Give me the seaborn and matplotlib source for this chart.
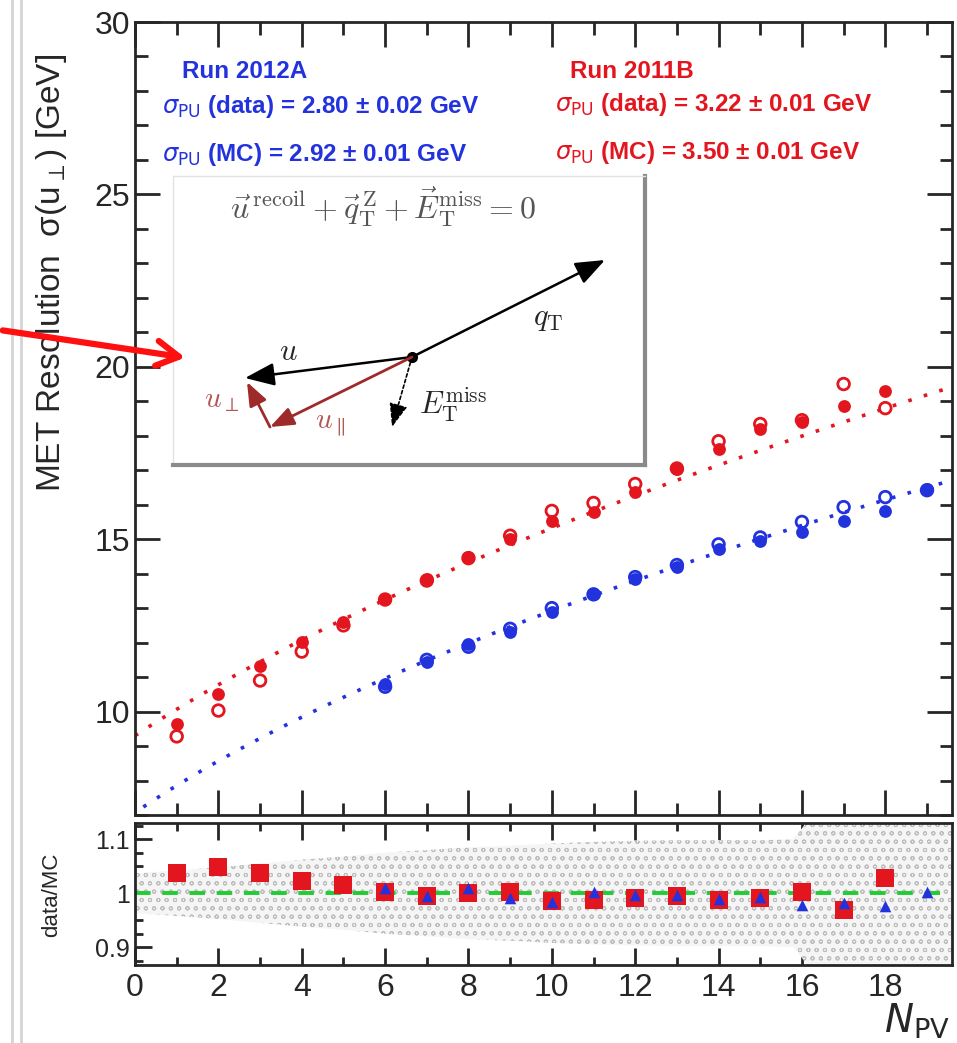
import numpy as np
import pandas as pd
import matplotlib
matplotlib.use('Agg')
import matplotlib.pyplot as plt
import seaborn as sns
from matplotlib.lines import Line2D
from matplotlib.patches import FancyArrowPatch
from matplotlib.ticker import MultipleLocator, FixedLocator, FixedFormatter

# Run 2011B (red)
npv_red = [1, 2, 3, 4, 5, 6, 7, 8, 9, 10, 11, 12, 13, 14, 15, 16, 17, 18]
red_data = [9.65, 10.52, 11.33, 12.03, 12.6, 13.27, 13.85, 14.49, 15.0, 15.53,
            15.79, 16.37, 17.03, 17.61, 18.19, 18.39, 18.86, 19.29]
red_mc = [9.28, 10.03, 10.9, 11.74, 12.5, 13.25, 13.8, 14.45, 15.1, 15.82,
          16.05, 16.6, 17.05, 17.84, 18.34, 18.45, 19.5, 18.8]
ratio_red = [1.037, 1.048, 1.037, 1.022, 1.015, 1.002, 0.994, 1.0, 1.002, 0.985,
             0.987, 0.992, 0.994, 0.987, 0.992, 1.002, 0.969, 1.028]
ratio_red_err = [0.012, 0.006, 0.005, 0.004, 0.004, 0.004, 0.004, 0.004, 0.004, 0.004,
                 0.004, 0.004, 0.005, 0.005, 0.006, 0.006, 0.012, 0.014]

# Run 2012A (blue)
npv_blue = [6, 7, 8, 9, 10, 11, 12, 13, 14, 15, 16, 17, 18, 19]
blue_data = [10.81, 11.45, 11.97, 12.32, 12.89, 13.42, 13.85, 14.2, 14.72, 14.95,
             15.2, 15.53, 15.82, 16.45]
blue_mc = [10.72, 11.5, 11.88, 12.4, 13.0, 13.4, 13.9, 14.25, 14.85, 15.05,
           15.5, 15.93, 16.22, 16.42]
ratio_blue = [1.009, 0.994, 1.009, 0.992, 0.984, 1.002, 0.996, 0.996, 0.99, 0.993,
              0.978, 0.981, 0.976, 1.003]

# fit: sigma = sqrt(c^2 + N * sigma_PU^2)
red_fit = (9.3, 3.85)
blue_fit = (7.07, 3.42)

# systematic band on data/MC
band_npv = [0, 1, 2, 3, 4, 5, 6, 7, 8, 9, 10, 11, 12, 13, 14, 15, 15.8, 16.2, 17, 18, 19, 20]
band_half = [0.037, 0.042, 0.048, 0.055, 0.062, 0.068, 0.075, 0.08, 0.085, 0.088, 0.092,
             0.095, 0.097, 0.098, 0.098, 0.098, 0.1, 0.14, 0.14, 0.14, 0.14, 0.14]

RED = '#e3161f'
BLUE = '#2233dd'
W, H = 957, 1043


def fx(px):
    return px / W


def fy(py):
    return 1 - py / H


sns.set_style('ticks')
plt.rcParams['font.family'] = ['Liberation Sans', 'DejaVu Sans']
plt.rcParams['mathtext.fontset'] = 'dejavusans'
plt.rcParams['hatch.linewidth'] = 0.7

fig = plt.figure(figsize=(W / 100, H / 100), dpi=100)
ax = fig.add_axes([fx(135), fy(815), fx(952) - fx(135), fy(22) - fy(815)])
rax = fig.add_axes([fx(135), fy(965), fx(952) - fx(135), fy(823) - fy(965)])

# main panel
for fit, col, x0 in [(red_fit, RED, 0.0), (blue_fit, BLUE, 0.2)]:
    xs = np.linspace(x0, 19.6, 200)
    ys = np.sqrt(fit[0] ** 2 + xs * fit[1] ** 2)
    sns.lineplot(x=xs, y=ys, ax=ax, color=col, lw=2.6, linestyle=(0, (1, 3.5)), zorder=2)

df_red = pd.DataFrame({'npv': npv_red, 'data': red_data, 'mc': red_mc})
df_blue = pd.DataFrame({'npv': npv_blue, 'data': blue_data, 'mc': blue_mc})
for df, col in [(df_red, RED), (df_blue, BLUE)]:
    ax.scatter(df['npv'], df['mc'], s=70, facecolors='none', edgecolors=col,
               linewidths=2.0, zorder=3)
    sns.scatterplot(data=df, x='npv', y='data', ax=ax, color=col, s=85,
                    marker='o', edgecolor=col, linewidth=0, zorder=4)

ax.set_xlim(0, 19.6)
ax.set_ylim(7, 30)
ax.xaxis.set_major_locator(MultipleLocator(2))
ax.xaxis.set_minor_locator(MultipleLocator(1))
ax.yaxis.set_major_locator(MultipleLocator(5))
ax.yaxis.set_minor_locator(MultipleLocator(1))
ax.tick_params(which='both', direction='in', top=True, right=True, width=2)
ax.tick_params(which='major', length=18, labelsize=23)
ax.tick_params(which='minor', length=9)
ax.tick_params(axis='x', labelbottom=False)
ax.set_xlabel('')
ax.set_ylabel('')
for s in ax.spines.values():
    s.set_linewidth(2)

# ratio panel
bx = np.array(band_npv)
bh = np.array(band_half)
rax.fill_between(bx, 1 - bh, 1 + bh, facecolor='#f5f5f5', edgecolor='#bdbdbd',
                 hatch='oo', linewidth=0, zorder=1)
rax.axhline(1.0, color='#22cc33', lw=2.8, linestyle=(0, (4, 3)), zorder=2)
df_r = pd.DataFrame({'npv': npv_red, 'ratio': ratio_red})
df_b = pd.DataFrame({'npv': npv_blue, 'ratio': ratio_blue})
rax.errorbar(npv_red, ratio_red, yerr=ratio_red_err, fmt='none', ecolor=RED, elinewidth=2.5, zorder=3)
sns.scatterplot(data=df_r, x='npv', y='ratio', ax=rax, color=RED, marker='s', s=150,
                linewidth=0, zorder=4)
sns.scatterplot(data=df_b, x='npv', y='ratio', ax=rax, color=BLUE, marker='^', s=70,
                linewidth=0, zorder=5)

rax.set_xlim(0, 19.6)
rax.set_ylim(0.867, 1.13)
rax.xaxis.set_major_locator(MultipleLocator(2))
rax.xaxis.set_minor_locator(MultipleLocator(1))
rax.yaxis.set_major_locator(FixedLocator([0.9, 1.0, 1.1]))
rax.yaxis.set_major_formatter(FixedFormatter(['0.9', '1', '1.1']))
rax.yaxis.set_minor_locator(MultipleLocator(0.025))
rax.tick_params(which='both', direction='in', top=True, right=True, width=2)
rax.tick_params(which='major', length=12)
rax.tick_params(which='minor', length=6)
rax.tick_params(axis='y', labelsize=18)
rax.tick_params(axis='x', labelsize=23, pad=6)
rax.set_xlabel('')
rax.set_ylabel('')
for s in rax.spines.values():
    s.set_linewidth(2)

# axis titles
fig.text(fx(52), fy(273), 'MET Resolution  σ(u$_{\\perp}$) [GeV]', rotation=90,
         ha='center', va='center', fontsize=24)
fig.text(fx(52), fy(895), 'data/MC', rotation=90, ha='center', va='center', fontsize=16)
fig.text(fx(950), fy(1033), r'$N_{\rm PV}$', ha='right', va='baseline', fontsize=28)

# run annotations
tk = dict(fontsize=17.5, fontweight='bold', va='center')
fig.text(fx(245), fy(72), 'Run 2012A', color=BLUE, ha='center', **tk)
fig.text(fx(162), fy(107), r'$\sigma_{\rm PU}$ (data) = 2.80 ± 0.02 GeV', color=BLUE, ha='left', **tk)
fig.text(fx(162), fy(155), r'$\sigma_{\rm PU}$ (MC) = 2.92 ± 0.01 GeV', color=BLUE, ha='left', **tk)
fig.text(fx(632), fy(72), 'Run 2011B', color=RED, ha='center', **tk)
fig.text(fx(555), fy(105), r'$\sigma_{\rm PU}$ (data) = 3.22 ± 0.01 GeV', color=RED, ha='left', **tk)
fig.text(fx(555), fy(153), r'$\sigma_{\rm PU}$ (MC) = 3.50 ± 0.01 GeV', color=RED, ha='left', **tk)

# inset: recoil diagram
ins = fig.add_axes([fx(173), fy(465), fx(645) - fx(173), fy(176) - fy(465)])
ins.set_xlim(173, 645)
ins.set_ylim(465, 176)
ins.set_xticks([])
ins.set_yticks([])
ins.set_facecolor('white')
for side in ['left', 'top']:
    ins.spines[side].set_color('#e2e2e2')
    ins.spines[side].set_linewidth(1)
for side in ['right', 'bottom']:
    ins.spines[side].set_color('#8a8a8a')
    ins.spines[side].set_linewidth(3)

ins.text(383, 207, r'$\vec{u}^{\,\rm recoil} + \vec{q}_{\rm T}^{\,\rm Z} + \vec{E}_{\rm T}^{\rm miss} = 0$',
         math_fontfamily='cm', color='#555555', fontsize=23, ha='center', va='center')
center = (412, 357)
arr = dict(arrowstyle='-|>,head_length=0.9,head_width=0.35', color='black', lw=1.8,
           shrinkA=0, shrinkB=0, mutation_scale=20)
ins.annotate('', xy=(605, 260), xytext=center, arrowprops=arr)
ins.annotate('', xy=(245, 378), xytext=center, arrowprops=arr)
ins.annotate('', xy=(392, 427), xytext=center,
             arrowprops=dict(arr, linestyle=(0, (2, 1.5)), lw=1.2, mutation_scale=16))
darr = dict(arrowstyle='-|>,head_length=0.9,head_width=0.35', color='#9e2a2a', lw=2.0,
            shrinkA=0, shrinkB=0, mutation_scale=16)
ins.annotate('', xy=(270, 427), xytext=center, arrowprops=darr)
ins.annotate('', xy=(247, 382), xytext=(270, 427), arrowprops=darr)
ins.plot([center[0]], [center[1]], 'o', color='black', ms=7)
ins.text(548, 318, r'$q_{\rm T}$', math_fontfamily='cm', fontsize=22, ha='center', va='center')
ins.text(288, 352, r'$u$', math_fontfamily='cm', fontsize=22, ha='center', va='center')
ins.text(453, 405, r'$E_{\rm T}^{\rm miss}$', math_fontfamily='cm', fontsize=22, ha='center', va='center')
ins.text(222, 400, r'$u_{\perp}$', math_fontfamily='cm', fontsize=21, color='#b55555',
         ha='center', va='center')
ins.text(330, 424, r'$u_{\parallel}$', math_fontfamily='cm', fontsize=21, color='#b55555',
         ha='center', va='center')

# page borders and red pointer arrow
for xp in [12, 21]:
    fig.add_artist(Line2D([fx(xp), fx(xp)], [0, 1], color='#d4d4d4', lw=2))
fig.add_artist(FancyArrowPatch((0, fy(330)), (fx(188), fy(358)), transform=fig.transFigure,
                               arrowstyle='->,head_length=16,head_width=9', color='#ff1010',
                               lw=4.5, zorder=10))

plt.savefig('out.png', dpi=100)
